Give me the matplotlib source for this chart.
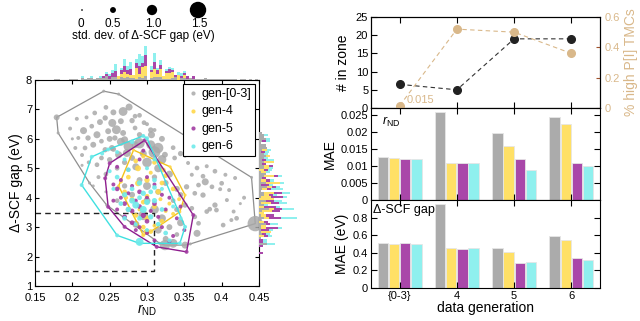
import numpy as np
import matplotlib
matplotlib.use("Agg")
import matplotlib.pyplot as plt

plt.rcParams['font.family'] = ['Liberation Sans', 'DejaVu Sans']
plt.rcParams['mathtext.fontset'] = 'custom'
plt.rcParams['mathtext.rm'] = 'Liberation Sans'
plt.rcParams['mathtext.it'] = 'Liberation Sans:italic'
plt.rcParams['axes.linewidth'] = 0.8

# ---- scatter data: (r_ND, gap, std of gap) ----
gray_x = [0.179, 0.181, 0.242, 0.262, 0.230, 0.245, 0.255, 0.276, 0.268, 0.206, 0.219, 0.197, 0.215, 0.226,
          0.237, 0.244, 0.2535, 0.265, 0.28, 0.284, 0.208, 0.221, 0.233, 0.239, 0.248, 0.259, 0.268, 0.257,
          0.27, 0.284, 0.29, 0.204, 0.217, 0.228, 0.244, 0.253, 0.239, 0.25, 0.233, 0.262, 0.273, 0.284,
          0.296, 0.31, 0.30, 0.29, 0.2, 0.213, 0.222, 0.213, 0.235, 0.228, 0.245, 0.223, 0.246,
          0.315, 0.306, 0.324, 0.337, 0.355, 0.367, 0.38, 0.391, 0.405, 0.375, 0.36, 0.418, 0.44, 0.351,
          0.378, 0.369, 0.387, 0.375, 0.391, 0.384, 0.38, 0.393, 0.402, 0.413, 0.42, 0.407, 0.416, 0.398,
          0.445, 0.367, 0.351, 0.364, 0.369, 0.36, 0.351, 0.364, 0.353, 0.324, 0.40, 0.41, 0.358, 0.43, 0.425,
          0.265, 0.275, 0.29, 0.305, 0.31, 0.32, 0.295, 0.28, 0.30, 0.315, 0.285, 0.27, 0.33, 0.325, 0.34,
          0.31, 0.29, 0.30, 0.315, 0.27, 0.28, 0.30, 0.31, 0.295, 0.32, 0.33, 0.34, 0.315, 0.30, 0.325,
          0.285, 0.275, 0.26, 0.335, 0.345, 0.305, 0.32, 0.335, 0.345, 0.25, 0.255, 0.26, 0.245, 0.317,
          0.335, 0.34, 0.345]
gray_y = [6.73, 6.20, 7.62, 7.52, 6.88, 7.07, 6.90, 7.08, 6.93, 6.68, 6.73, 6.35, 6.28, 6.43,
          6.57, 6.71, 6.54, 6.60, 6.62, 6.77, 6.03, 6.03, 6.14, 5.92, 6.26, 6.31, 6.20, 6.03,
          5.97, 6.37, 6.14, 5.69, 5.69, 5.80, 5.63, 5.69, 5.35, 5.29, 5.12, 5.46, 5.52, 5.80,
          6.55, 6.3, 6.5, 6.8, 6.0, 5.45, 5.2, 5.1, 4.7, 4.4, 4.2, 4.5, 3.75,
          5.69, 6.14, 5.46, 5.35, 5.18, 5.01, 5.07, 4.90, 4.78, 4.73, 4.78, 4.67, 4.69, 5.41,
          4.54, 4.43, 4.37, 4.09, 3.75, 3.61, 3.53, 3.58, 3.07, 3.24, 3.30, 3.92, 3.53, 4.29,
          3.12, 2.79, 2.39, 3.35, 3.13, 3.64, 3.75, 4.15, 4.37, 2.39, 4.49, 4.26, 2.43, 4.0, 3.8,
          5.9, 5.75, 5.85, 5.8, 5.55, 5.3, 5.5, 5.35, 5.2, 5.0, 5.05, 5.2, 4.8, 4.5, 4.3,
          4.7, 4.6, 4.4, 4.2, 4.4, 4.1, 3.9, 3.6, 3.4, 3.3, 3.0, 3.6, 2.9, 2.85, 2.6,
          3.1, 3.6, 3.9, 3.9, 4.1, 6.3, 6.0, 5.7, 5.5, 6.0, 5.65, 5.0, 4.8, 2.45,
          2.45, 2.75, 3.15]
gray_s = [0.5, 0.1, 0.1, 0.1, 0.3, 0.3, 0.5, 0.6, 0.8, 0.2, 0.2, 0.2, 0.6, 0.3,
          0.5, 0.4, 0.7, 0.5, 0.4, 0.3, 0.2, 0.4, 0.6, 0.3, 0.5, 0.8, 0.5, 0.4,
          0.6, 0.3, 0.4, 0.2, 0.3, 0.5, 0.4, 0.5, 0.3, 0.4, 0.3, 0.6, 0.7, 0.6,
          0.3, 0.2, 0.2, 0.3, 0.1, 0.2, 0.2, 0.1, 0.2, 0.1, 0.1, 0.1, 0.1,
          1.0, 0.6, 0.5, 0.3, 0.2, 0.3, 0.2, 0.3, 0.2, 0.3, 0.2, 0.2, 0.1, 0.1,
          0.6, 0.3, 0.3, 0.4, 0.4, 0.3, 0.3, 0.3, 0.3, 0.2, 0.3, 0.2, 0.2, 0.2,
          1.4, 0.6, 0.6, 0.3, 0.3, 0.3, 0.4, 0.3, 0.4, 1.0, 0.3, 0.2, 0.1, 0.2, 0.1,
          0.7, 0.9, 1.0, 0.8, 1.1, 0.8, 0.6, 0.5, 0.9, 0.7, 0.6, 0.4, 0.6, 0.5, 0.5,
          0.4, 0.5, 0.7, 0.5, 0.4, 0.5, 0.6, 0.8, 0.9, 0.7, 0.5, 0.4, 0.6, 0.4, 0.5,
          0.6, 0.4, 0.3, 0.3, 0.4, 0.4, 0.5, 0.3, 0.4, 0.5, 0.4, 0.3, 0.3, 0.1,
          0.8, 0.3, 0.6]

gen4_x = [0.282, 0.331, 0.351, 0.344, 0.295, 0.262, 0.288, 0.322, 0.288, 0.30, 0.275, 0.31, 0.295, 0.285,
          0.32, 0.335, 0.315, 0.27, 0.28, 0.30, 0.33, 0.31, 0.29, 0.285, 0.30, 0.32, 0.295, 0.31,
          0.335, 0.325, 0.295, 0.265, 0.305, 0.298, 0.305, 0.272, 0.318, 0.343, 0.325]
gen4_y = [5.62, 5.05, 4.09, 3.52, 2.73, 4.4, 5.0, 4.94, 4.49, 4.6, 4.7, 5.2, 5.4, 5.25,
          4.5, 4.3, 4.2, 4.2, 3.95, 4.05, 3.8, 3.7, 3.6, 3.4, 3.3, 3.2, 3.0, 3.05,
          3.45, 3.55, 3.85, 4.55, 4.85, 2.85, 2.85, 4.0, 3.95, 3.95, 4.75]
gen4_s = [0.1, 0.1, 0.1, 0.1, 0.2, 0.1, 0.5, 0.3, 0.5, 0.4, 0.3, 0.3, 0.2, 0.3,
          0.3, 0.3, 0.4, 0.3, 0.3, 0.3, 0.2, 0.3, 0.2, 0.3, 0.4, 0.3, 0.3, 0.2,
          0.2, 0.2, 0.3, 0.2, 0.2, 0.2, 0.3, 0.2, 0.2, 0.2, 0.3]

gen5_x = [0.297, 0.25, 0.244, 0.248, 0.27, 0.313, 0.353, 0.362, 0.26, 0.265, 0.27, 0.275, 0.28, 0.285,
          0.29, 0.295, 0.30, 0.305, 0.31, 0.315, 0.32, 0.325, 0.27, 0.26, 0.255, 0.265, 0.28, 0.29,
          0.30, 0.31, 0.32, 0.33, 0.34, 0.335, 0.35, 0.33, 0.28, 0.29, 0.30, 0.275, 0.26, 0.29,
          0.295, 0.285, 0.31, 0.255, 0.345, 0.3]
gen5_y = [5.95, 5.17, 4.66, 3.69, 3.01, 2.33, 2.16, 3.41, 4.3, 4.0, 3.8, 4.15, 3.55, 3.9,
          3.7, 3.4, 3.2, 3.55, 3.8, 3.35, 3.0, 3.6, 3.35, 3.6, 3.9, 4.6, 4.4, 4.2,
          4.0, 4.45, 4.1, 4.0, 3.3, 2.7, 2.9, 2.5, 3.15, 3.0, 2.8, 4.95, 5.05, 5.3,
          5.6, 2.9, 2.55, 4.45, 3.7, 4.7]
gen5_s = [0.2, 0.2, 0.2, 0.2, 0.2, 0.2, 0.2, 0.2, 0.3, 0.2, 0.3, 0.2, 0.3, 0.2,
          0.3, 0.4, 0.3, 0.2, 0.3, 0.2, 0.2, 0.2, 0.3, 0.2, 0.2, 0.2, 0.2, 0.3,
          0.2, 0.2, 0.2, 0.2, 0.2, 0.2, 0.2, 0.2, 0.3, 0.2, 0.2, 0.2, 0.2, 0.2,
          0.2, 0.2, 0.2, 0.2, 0.2, 0.2]

gen6_x = [0.2125, 0.226, 0.248, 0.295, 0.30, 0.351, 0.344, 0.29, 0.26, 0.27, 0.28, 0.285, 0.29, 0.30,
          0.295, 0.31, 0.305, 0.275, 0.265, 0.28, 0.29, 0.31, 0.30, 0.275, 0.26, 0.29, 0.305, 0.32,
          0.315, 0.30, 0.325, 0.29, 0.33, 0.345, 0.335, 0.26, 0.24, 0.28, 0.27, 0.255, 0.27, 0.285,
          0.31, 0.295, 0.32, 0.31, 0.25]
gen6_y = [4.43, 5.39, 5.64, 6.10, 6.02, 3.01, 2.45, 2.45, 2.72, 4.1, 3.9, 3.75, 4.0, 3.85,
          3.6, 3.9, 4.2, 3.6, 3.8, 4.3, 4.5, 4.6, 5.0, 4.95, 4.7, 3.3, 3.35, 3.6,
          3.1, 2.9, 2.8, 2.5, 2.55, 3.3, 3.7, 5.55, 5.5, 5.9, 5.3, 4.3, 3.3, 3.1,
          4.35, 4.15, 4.3, 5.3, 4.9]
gen6_s = [0.2, 0.2, 0.2, 0.2, 0.2, 0.2, 0.2, 0.2, 0.2, 0.4, 0.5, 0.6, 0.3, 0.5,
          0.6, 0.4, 0.3, 0.4, 0.3, 0.3, 0.4, 0.3, 0.2, 0.3, 0.3, 0.3, 0.4, 0.3,
          0.3, 0.2, 0.3, 0.7, 0.2, 0.2, 0.2, 0.2, 0.2, 0.3, 0.2, 0.2, 0.3, 0.2,
          0.3, 0.4, 0.2, 0.2, 0.2]

size_legend_std = [0, 0.5, 1.0, 1.5]
size_legend_labels = ['0', '0.5', '1.0', '1.5']

# ---- right panels ----
gen_labels = ['{0-3}', '4', '5', '6']
n_in_zone = [6.5, 5, 19, 19]
frac_high_PI = [0.015, 0.52, 0.50, 0.36]
mae_rnd = {'gen-[0-3]': [0.0127, 0.0259, 0.0197, 0.0245],
           'gen-4': [0.0122, 0.0108, 0.0158, 0.0223],
           'gen-5': [0.0121, 0.0108, 0.0121, 0.0109],
           'gen-6': [0.0119, 0.0110, 0.0088, 0.0101]}
mae_gap = {'gen-[0-3]': [0.51, 0.95, 0.46, 0.59],
           'gen-4': [0.50, 0.46, 0.41, 0.55],
           'gen-5': [0.51, 0.44, 0.28, 0.34],
           'gen-6': [0.50, 0.45, 0.30, 0.32]}

pt_colors = ['#a9a9a9', '#ffd84a', '#a23ca2', '#6eeaea']
hull_colors = ['#8f8f8f', '#f2c21b', '#8e1d8e', '#3fe0e0']
bar_colors = ['#ababab', '#ffe066', '#a947a9', '#8ff0ee']
tan = '#d9b88a'
names = ['gen-[0-3]', 'gen-4', 'gen-5', 'gen-6']


def std_to_size(s):
    return np.interp(s, [0, 0.5, 1.0, 1.5], [1.5, 18, 55, 140])


def hull(x, y):
    pts = sorted(set(zip(x, y)))

    def cross(o, a, b):
        return (a[0] - o[0]) * (b[1] - o[1]) - (a[1] - o[1]) * (b[0] - o[0])
    lower, upper = [], []
    for p in pts:
        while len(lower) >= 2 and cross(lower[-2], lower[-1], p) <= 0:
            lower.pop()
        lower.append(p)
    for p in reversed(pts):
        while len(upper) >= 2 and cross(upper[-2], upper[-1], p) <= 0:
            upper.pop()
        upper.append(p)
    h = lower[:-1] + upper[:-1] + [lower[0]]
    return [p[0] for p in h], [p[1] for p in h]


fig = plt.figure(figsize=(6.4, 3.21), dpi=100)
W, H = 640, 321


def px_axes(x0, y0, x1, y1):
    return fig.add_axes([x0 / W, 1 - y1 / H, (x1 - x0) / W, (y1 - y0) / H])


ax = px_axes(35, 80, 259, 286)
ax_hx = px_axes(35, 45, 259, 80)
ax_hy = px_axes(259, 80, 298, 286)

series = [(gray_x, gray_y, gray_s), (gen4_x, gen4_y, gen4_s),
          (gen5_x, gen5_y, gen5_s), (gen6_x, gen6_y, gen6_s)]

for i, (x, y, s) in enumerate(series):
    hx, hy = hull(x, y)
    ax.plot(hx, hy, color=hull_colors[i], lw=0.9 if i == 0 else 1.0, zorder=1 + i)
    ax.scatter(x, y, s=std_to_size(s), color=pt_colors[i], alpha=0.85 if i == 0 else 0.9,
               linewidths=0, zorder=2 + i, clip_on=False, label=names[i])

# zone box
ax.plot([0.15, 0.31, 0.31, 0.15], [3.47, 3.47, 1.5, 1.5], ls='--', color='#222222', lw=1.0, dashes=(4, 3))

ax.set_xlim(0.15, 0.45)
ax.set_ylim(1, 8)
ax.set_xticks([0.15, 0.2, 0.25, 0.3, 0.35, 0.4, 0.45])
ax.set_xticklabels(['0.15', '0.2', '0.25', '0.3', '0.35', '0.4', '0.45'])
ax.set_yticks(range(1, 9))
ax.tick_params(direction='in', top=True, right=True, labelsize=8, length=3, width=0.8, pad=2)
ax.tick_params(axis='x', pad=5)
ax.set_xlabel(r'$r_{\mathrm{ND}}$', fontsize=10, labelpad=0)
ax.set_ylabel('Δ-SCF gap (eV)', fontsize=10, labelpad=2)
leg = ax.legend(loc='upper right', fontsize=9, markerscale=1.0, handletextpad=0.2,
                borderaxespad=0.3, fancybox=False, edgecolor='black', framealpha=1,
                borderpad=0.3, labelspacing=0.45, scatterpoints=1, handlelength=1.0)
leg.get_frame().set_linewidth(0.8)
for h, c in zip(leg.legend_handles, pt_colors):
    h.set_sizes([9])

# marginal histograms, stacked, each series normalised to unit area
bx = np.arange(0.16, 0.466, 0.004)
by = np.arange(1.4, 6.3, 0.07)
bottom_x = np.zeros(len(bx) - 1)
bottom_y = np.zeros(len(by) - 1)
for i, (x, y, s) in enumerate(series):
    hxv, _ = np.histogram(x, bins=bx, density=True)
    hyv, _ = np.histogram(y, bins=by, density=True)
    ax_hx.bar(bx[:-1], hxv, width=np.diff(bx), align='edge', bottom=bottom_x,
              color=bar_colors[i], linewidth=0)
    ax_hy.barh(by[:-1], hyv, height=np.diff(by), align='edge', left=bottom_y,
               color=bar_colors[i], linewidth=0)
    bottom_x += hxv
    bottom_y += hyv
ax_hx.set_xlim(0.15, 0.45)
ax_hx.set_ylim(0, bottom_x.max() * 1.02)
ax_hx.axis('off')
ax_hy.set_ylim(1, 8)
ax_hy.set_xlim(0, bottom_y.max() * 1.02)
ax_hy.axis('off')

# size legend
ax_sz = px_axes(0, 0, 290, 45)
ax_sz.set_xlim(0, 290)
ax_sz.set_ylim(45, 0)
ax_sz.axis('off')
ax_sz.scatter([82, 113, 152, 198], [10] * 4, s=std_to_size(size_legend_std), color='black', linewidths=0)
for xp, lab in zip([81, 113, 153, 199], size_legend_labels):
    ax_sz.text(xp, 24, lab, ha='center', va='center', fontsize=8.5)
ax_sz.text(143, 35.5, 'std. dev. of Δ-SCF gap (eV)', ha='center', va='center', fontsize=8.5)

# right column
xg = np.arange(len(gen_labels))
ax1 = px_axes(371, 17, 600, 108)
ax2 = px_axes(371, 108, 600, 200)
ax3 = px_axes(371, 200, 600, 288)

ax1.plot(xg, n_in_zone, ls='--', color='#333333', lw=0.8, dashes=(4, 3), marker='o', ms=5.5,
         mfc='#222222', mec='#222222', zorder=3)
ax1.set_ylim(0, 25)
ax1.set_yticks([0, 5, 10, 15, 20, 25])
ax1.set_ylabel('# in zone', fontsize=10, labelpad=4)
ax1b = ax1.twinx()
ax1b.plot(xg, frac_high_PI, ls='--', color=tan, lw=0.8, dashes=(4, 3), marker='o', ms=5.5,
          mfc=tan, mec=tan)
ax1b.set_ylim(0, 0.6)
ax1b.set_yticks([0, 0.2, 0.4, 0.6])
ax1b.set_yticklabels(['0', '0.2', '0.4', '0.6'])
ax1b.tick_params(axis='y', colors='#a0522d', labelcolor=tan, direction='in', labelsize=8, length=3)
ax1b.set_ylabel('% high P[I] TMCs', color=tan, fontsize=10, labelpad=3)
ax1b.annotate('0.015', (xg[0], frac_high_PI[0]), xytext=(5, 2), textcoords='offset points',
              color=tan, fontsize=8)

width = 0.18
for ax_b, data in [(ax2, mae_rnd), (ax3, mae_gap)]:
    for i, name in enumerate(names):
        ax_b.bar(xg + (i - 1.5) * 0.195, data[name], width=width, color=bar_colors[i],
                 edgecolor='#e6e6e6', linewidth=0.6)

ax2.set_ylim(0, 0.027)
ax2.set_yticks([0, 0.005, 0.01, 0.015, 0.02, 0.025])
ax2.set_yticklabels(['0', '0.005', '0.01', '0.015', '0.02', '0.025'])
ax2.set_ylabel('MAE', fontsize=10, labelpad=3)
ax2.text(0.05, 0.93, r'$r_{\mathrm{ND}}$', transform=ax2.transAxes, fontsize=9, va='top')

ax3.set_ylim(0, 1.0)
ax3.set_yticks([0, 0.2, 0.4, 0.6, 0.8])
ax3.set_yticklabels(['0', '0.2', '0.4', '0.6', '0.8'])
ax3.set_ylabel('MAE (eV)', fontsize=10, labelpad=3)
ax3.text(0.01, 0.96, 'Δ-SCF gap', transform=ax3.transAxes, fontsize=9, va='top')

for a in (ax1, ax2, ax3):
    a.set_xlim(-0.5, 3.5)
    a.set_xticks(xg)
    a.tick_params(direction='in', top=True, labelsize=8, length=4, width=0.8, pad=2)
ax1.tick_params(axis='y', right=False)
ax2.tick_params(right=True)
ax3.tick_params(right=True)
ax1.set_xticklabels([])
ax2.set_xticklabels([])
ax3.set_xticklabels(gen_labels)
ax3.set_xlabel('data generation', fontsize=10, labelpad=0)

fig.savefig('out.png', dpi=100)
